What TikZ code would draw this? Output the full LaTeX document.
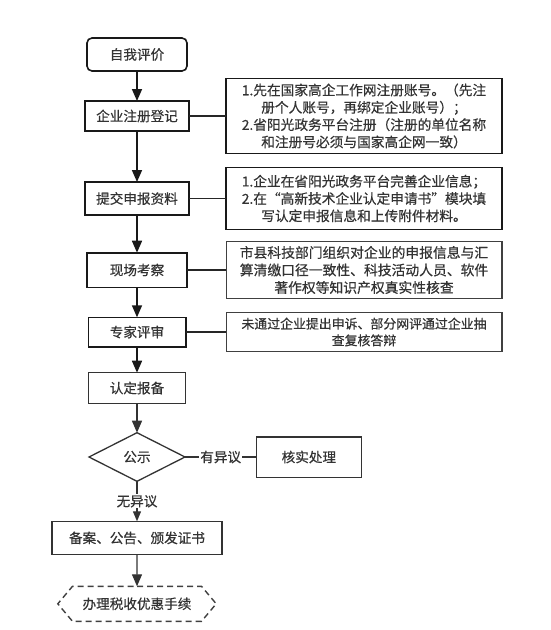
\documentclass[tikz,border=0pt]{standalone}
\usepackage{fontspec}
\setmainfont{Noto Sans CJK SC}[FakeBold=0.5]
\usetikzlibrary{positioning, arrows.meta, shapes.geometric, shapes.symbols}
\tikzset{
>={Triangle[length=12pt,width=10pt]}, % filled heads on the flow arrows
every node/.style={font=\fontsize{13.6}{17.3}\selectfont, text=black!80, outer sep=0pt}, % text of all boxes
stepbox/.style={draw=black!90, line width=1.6pt, minimum width=100pt, minimum height=33pt, inner sep=2pt}, % boxes of the main column
notebox/.style={draw=black!90, line width=1.6pt, minimum width=275.7pt, align=center, inner sep=2pt, font=\fontsize{13.7}{17.3}\selectfont}, % explanations on the right
checkbox/.style={diamond, draw=black!80, line width=1.3pt, minimum width=96pt, minimum height=48.6pt, inner sep=0pt}, % the decision
endbox/.style={signal, signal to=west and east, signal pointer angle=100, draw=black!75, line width=1.4pt, dash pattern=on 6pt off 4pt, minimum width=158.4pt, minimum height=35pt}, % last step, dashed
lbl/.style={fill=white, inner sep=1pt}, % text on a connector
}
\begin{document}
\begin{tikzpicture}[x=1pt, y=1pt]
\useasboundingbox (0,0) rectangle (550,-630);
\node[stepbox, rounded corners=5pt] (self) at (137,-54.5) {自我评价};
\node[stepbox, below=30pt of self, minimum width=104pt, minimum height=30pt] (reg) {企业注册登记};
\node[stepbox, below=51pt of reg, minimum width=104pt] (sub) {提交申报资料};
\node[stepbox, below=37.7pt of sub, minimum height=34.6pt] (site) {现场考察};
\node[stepbox, below=30pt of site, minimum width=97.4pt, minimum height=29.4pt] (expert) {专家评审};
\node[stepbox, below=26pt of expert, minimum width=96.4pt, minimum height=30.6pt, line width=1.3pt, draw=black!80] (record) {认定报备};
\node[checkbox, below=29.4pt of record] (notice) {公示};
\node[stepbox, right=71.4pt of notice, minimum width=105pt, minimum height=40.3pt, line width=1.3pt, draw=black!80] (check) {核实处理};
\node[stepbox, below=40pt of notice, minimum width=170pt, minimum height=33.3pt, line width=1.3pt, draw=black!80] (cert) {备案、公告、颁发证书};
\node[endbox, below=31.7pt of cert] (tax) {办理税收优惠手续};

\node[notebox, minimum height=75pt] (n1) at (reg -| 364,0) {1.先在国家高企工作网注册账号。（先注\\册个人账号，再绑定企业账号）；\\2.省阳光政务平台注册（注册的单位名称\\和注册号必须与国家高企网一致）};
\node[notebox, minimum height=62.3pt] (n2) at (sub -| 364,0) {1.企业在省阳光政务平台完善企业信息；\\2.在“高新技术企业认定申请书”模块填\\写认定申报信息和上传附件材料。};
\node[notebox, minimum height=56.4pt, line width=1.3pt, draw=black!75, font=\fontsize{13.8}{17.5}\selectfont] (n3) at (site -| 364,0) {市县科技部门组织对企业的申报信息与汇\\算清缴口径一致性、科技活动人员、软件\\著作权等知识产权真实性核查};
\node[notebox, minimum height=39pt, line width=1.3pt, draw=black!75, font=\fontsize{12.9}{16.7}\selectfont] (n4) at (expert -| 364,0) {未通过企业提出申诉、部分网评通过企业抽\\查复核答辩};

\draw[->, line width=1.6pt, black!90]
(self) edge (reg)
(reg) edge (sub)
(sub) edge (site)
(site) edge (expert)
(expert) edge (record)
;
\draw[->, line width=1.3pt, black!80]
(record) edge (notice)
(notice) edge[>={Triangle[length=10pt,width=8pt]}] node[lbl] {无异议} (cert)
(cert) edge (tax)
;
\draw[line width=1.4pt, black!85]
(reg) -- (n1)
(sub) -- (n2)
(site) -- (n3)
(expert) -- (n4)
;
\draw[line width=1.2pt, black!80] (notice) -- node[lbl] {有异议} (check);
\end{tikzpicture}
\end{document}
